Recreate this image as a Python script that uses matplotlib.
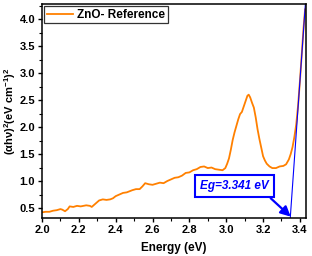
import matplotlib
matplotlib.use("Agg")
import matplotlib.pyplot as plt
from matplotlib.ticker import MultipleLocator

# ── data ─────────────────────────────────────────────────
energia = [2.000, 2.020, 2.040, 2.060, 2.080, 2.100, 2.110, 2.125, 2.140, 2.150,
           2.170, 2.190, 2.210, 2.240, 2.260, 2.270, 2.290, 2.310, 2.330, 2.350,
           2.370, 2.385, 2.400, 2.420, 2.440, 2.460, 2.490, 2.510, 2.530, 2.545,
           2.560, 2.580, 2.600, 2.620, 2.640, 2.660, 2.680, 2.700, 2.720, 2.740,
           2.760, 2.780, 2.800, 2.820, 2.840, 2.860, 2.880, 2.900, 2.920, 2.940,
           2.960, 2.980, 2.995, 3.005, 3.015, 3.025, 3.035, 3.045, 3.055, 3.065,
           3.075, 3.085, 3.095, 3.105, 3.115, 3.122, 3.130, 3.140, 3.150, 3.160,
           3.170, 3.180, 3.190, 3.200, 3.210, 3.220, 3.235, 3.250, 3.270, 3.290,
           3.310, 3.325, 3.340, 3.350, 3.360, 3.370, 3.380, 3.390, 3.400, 3.410,
           3.420, 3.428]
absorcion = [0.42, 0.43, 0.43, 0.45, 0.46, 0.48, 0.47, 0.44, 0.48, 0.53,
             0.52, 0.54, 0.53, 0.55, 0.54, 0.52, 0.58, 0.64, 0.66, 0.65,
             0.66, 0.68, 0.72, 0.75, 0.78, 0.79, 0.83, 0.85, 0.85, 0.90,
             0.96, 0.94, 0.93, 0.95, 0.97, 0.96, 1.00, 1.03, 1.06, 1.07,
             1.10, 1.15, 1.16, 1.20, 1.22, 1.26, 1.27, 1.24, 1.25, 1.22,
             1.21, 1.20, 1.24, 1.32, 1.42, 1.58, 1.76, 1.90, 2.02, 2.14,
             2.24, 2.28, 2.38, 2.48, 2.58, 2.60, 2.55, 2.45, 2.36, 2.18,
             1.96, 1.78, 1.62, 1.46, 1.38, 1.32, 1.27, 1.24, 1.24, 1.27,
             1.28, 1.31, 1.40, 1.50, 1.63, 1.82, 2.05, 2.40, 2.85, 3.35,
             3.85, 4.18]

eg = 3.341
tangente_x = [eg, 3.430]
tangente_pend = 48.3
# ─────────────────────────────────────────────────────────

plt.rcParams["font.family"] = ["Liberation Sans", "DejaVu Sans"]
plt.rcParams["font.weight"] = "bold"
plt.rcParams["mathtext.default"] = "regular"

fig, ax = plt.subplots(figsize=(3.12, 2.56), dpi=100)
fig.subplots_adjust(left=42/312, right=306/312, bottom=1-218/256, top=1-4/256)

ax.plot(energia, absorcion, color="#ff8000", lw=1.3, label="ZnO- Reference")
ax.plot(tangente_x, [tangente_pend*(x - eg) for x in tangente_x], color="#0000ff", lw=0.8)

ax.annotate(f"Eg={eg} eV", xy=(3.350, 0.34), xytext=(3.045, 0.905),
            color="#0000ff", fontsize=8.5, fontstyle="italic", fontweight="bold",
            ha="center", va="center",
            bbox=dict(boxstyle="square,pad=0.45", fc="white", ec="#0000ff", lw=1.5),
            arrowprops=dict(arrowstyle="-|>,head_length=0.7,head_width=0.35",
                            color="#0000ff", lw=1.6, shrinkA=0, shrinkB=0,
                            relpos=(0.93, 0.0)))

ax.set_xlim(2.0, 3.433)
ax.set_ylim(0.315, 4.28)
ax.xaxis.set_major_locator(MultipleLocator(0.2))
ax.xaxis.set_minor_locator(MultipleLocator(0.1))
ax.yaxis.set_major_locator(MultipleLocator(0.5))
ax.yaxis.set_minor_locator(MultipleLocator(0.25))
ax.tick_params(which="major", direction="out", length=3, width=1, labelsize=8, pad=2)
ax.tick_params(which="minor", direction="out", length=2, width=0.8)
for lab in ax.get_xticklabels() + ax.get_yticklabels():
    lab.set_fontweight("bold")
for sp in ax.spines.values():
    sp.set_linewidth(1.1)

ax.set_xlabel("Energy (eV)", fontsize=8.5, fontweight="bold", labelpad=5)
ax.set_ylabel("(αhν)$^2$(eV cm$^{-1}$)$^2$", fontsize=8, fontweight="bold",
              va="center")
ax.yaxis.set_label_coords(-0.122, 0.5)

leg = ax.legend(loc="upper left", fontsize=8.5, frameon=True, fancybox=False,
                borderaxespad=0.2, borderpad=0.2, handlelength=2.2, handletextpad=0.4)
leg.get_frame().set_edgecolor("black")
leg.get_frame().set_linewidth(0.9)
for t in leg.get_texts():
    t.set_fontweight("bold")

plt.savefig("out.png", dpi=100)
plt.close()
